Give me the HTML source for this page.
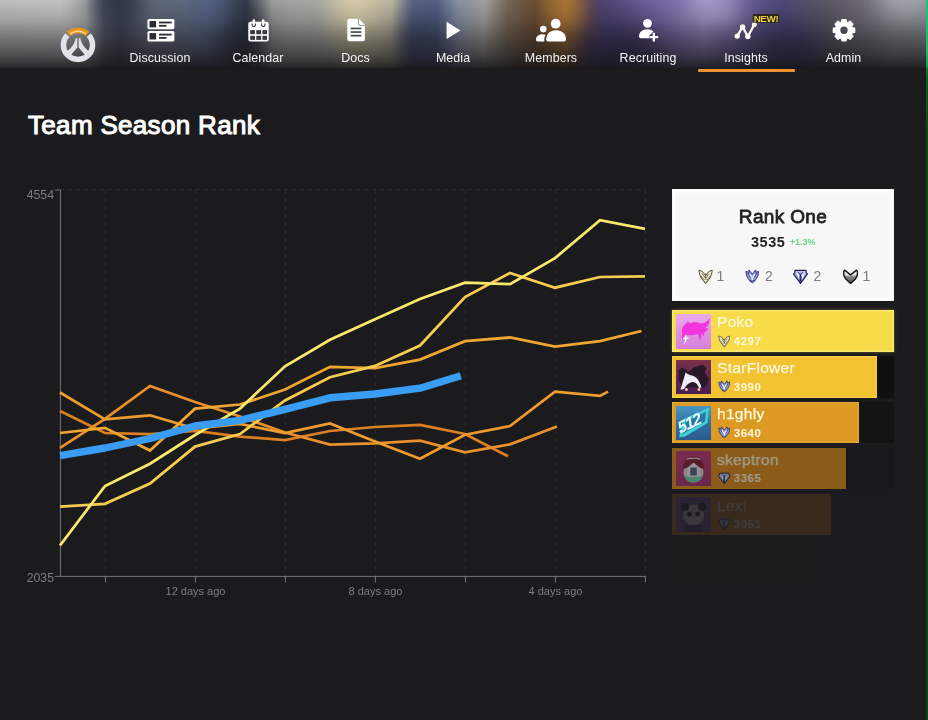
<!DOCTYPE html>
<html lang="en">
<head>
<meta charset="utf-8">
<title>Team Season Rank</title>
<style>
*{box-sizing:border-box;margin:0;padding:0}
html,body{width:928px;height:720px;overflow:hidden;background:#1b1b1d}
body{position:relative;font-family:"Liberation Sans",sans-serif;color:#fff}
.abs{position:absolute}
/* header */
#hdr{position:absolute;left:0;top:0;width:928px;height:70px;overflow:hidden;background:#6b6f73}
#hdr .base{position:absolute;left:0;top:0;width:928px;height:70px;background:linear-gradient(to right,#c2c6c5 0,#c6cac8 60px,#b0b4b4 86px,#5a6070 104px,#444a5a 120px,#666d7e 150px,#626b80 185px,#56627e 208px,#3e465a 232px,#353b4c 246px,#a2a6a4 272px,#aeb0a8 320px,#d2c8a6 352px,#c2bba4 392px,#5e6a8a 412px,#56628a 436px,#8c94aa 458px,#a8a6a4 484px,#7a6a58 508px,#6a4c34 535px,#9a6a30 565px,#54405a 590px,#4c4474 602px,#7464a2 650px,#9486c0 704px,#6c5e9a 742px,#504c7c 782px,#5c5868 824px,#6e6a76 858px,#8a8a94 896px,#909298 928px)}
#hdr .blobs{position:absolute;left:0;top:0;width:968px;height:120px;filter:blur(13px);opacity:.85}
#hdr .blobs i{position:absolute;display:block;border-radius:50%}
#hdr .shade{position:absolute;left:0;top:0;width:928px;height:70px;background:linear-gradient(to bottom,rgba(20,20,22,.03) 0,rgba(20,20,22,.2) 20px,rgba(20,20,22,.48) 40px,rgba(20,20,22,.67) 55px,rgba(20,20,22,.84) 65px,rgba(20,20,22,.9) 68px,#1b1b1d 68.800px)}
.nav{position:absolute;top:0;height:70px;width:98px;text-align:center}
.nav svg{position:absolute;left:0;top:0;overflow:visible}
.nav span{position:absolute;left:0;width:98px;top:50px;font-size:12.4px;line-height:16px;color:#f4f4f4;letter-spacing:.1px}
#uline{position:absolute;left:697.500px;top:69.400px;width:97px;height:2.600px;background:#f0922b;border-radius:1px}
#stripe{position:absolute;left:925.600px;top:0;width:2.400px;height:69px;background:linear-gradient(to bottom,#19c878 0,#1fb866 50px,#16a050 66px,#0f7a33 69px)}
#stripe2{position:absolute;left:926.300px;top:69px;width:1.700px;height:651px;background:linear-gradient(to bottom,#0f7030 0,#0c5a1e 14px,#0b4a18 60px,#0b4216 100%)}
h1{position:absolute;left:28px;top:108.500px;font-size:26px;line-height:32px;font-weight:normal;color:#fff;letter-spacing:.32px;white-space:nowrap;-webkit-text-stroke:1.05px #fff}
#chart{position:absolute;left:0;top:0}
#chart text{font-family:"Liberation Sans",sans-serif;fill:#7d7d7f}
/* right panel */
#card{position:absolute;left:672px;top:189px;width:222px;height:112px;background:#f7f7f7;border:1px solid transparent;box-shadow:inset 0 0 0 1px #fff,inset 0 0 5px 2px #fff}
#card .t{position:absolute;left:0;width:100%;top:15px;text-align:center;font-size:19px;line-height:24px;font-weight:normal;color:#222;letter-spacing:.35px;-webkit-text-stroke:.8px #222}
#card .s{position:absolute;left:78px;top:44px;font-size:14.500px;line-height:16px;font-weight:bold;color:#222;white-space:nowrap;letter-spacing:.5px}
#card .s b{font-size:9px;color:#6fcf85;font-weight:bold;margin-left:4.500px;position:relative;top:-2.500px;letter-spacing:0}
#card .n{position:absolute;top:78px;font-size:14px;line-height:16px;color:#7c7c7c}
.row{position:absolute;left:672px;height:41.600px}
.row .bar{position:absolute;left:0;top:0;height:41.600px}
.row .trk{position:absolute;left:0;top:0;width:222px;height:41.600px;background:#101011}
.row .av{position:absolute;left:4.200px;top:3.800px;width:34.600px;height:34.600px;overflow:hidden}
.row .nm{position:absolute;left:45px;top:3px;font-size:15.500px;line-height:18px;color:#fff8dc;white-space:nowrap;letter-spacing:.3px;-webkit-text-stroke:.25px #fff8dc}
.row .rk{position:absolute;left:61.700px;top:23.800px;font-size:11.500px;line-height:14px;font-weight:bold;color:#fff8dc;white-space:nowrap;letter-spacing:.55px}
.row svg.ri{position:absolute;left:46.400px;top:24.400px}
</style>
</head>
<body>
<div id="hdr">
  <div class="base"></div>
  <div class="blobs">
    <i style="left:92px;top:-22px;width:50px;height:44px;background:#2c3446"></i>
    <i style="left:190px;top:-6px;width:40px;height:36px;background:#5a6a90"></i>
    <i style="left:228px;top:10px;width:34px;height:50px;background:#262c3a"></i>
    <i style="left:335px;top:-5px;width:40px;height:34px;background:#e8dfbc"></i>
    <i style="left:400px;top:14px;width:40px;height:56px;background:#3a4462"></i>
    <i style="left:548px;top:-6px;width:36px;height:34px;background:#c88a3a"></i>
    <i style="left:590px;top:24px;width:70px;height:50px;background:#3a3060"></i>
    <i style="left:690px;top:-8px;width:50px;height:36px;background:#b8b0dc"></i>
    <i style="left:760px;top:24px;width:60px;height:50px;background:#3a3868"></i>
    <i style="left:880px;top:-14px;width:50px;height:34px;background:#b8b8c0"></i>
  </div>
  <div class="shade"></div>
</div>
<svg class="abs" style="left:58.100px;top:25.200px" width="40" height="40" viewBox="0 0 40 40">
  <defs><linearGradient id="owo" x1="0" y1="0" x2="0" y2="1"><stop offset="0" stop-color="#e08a14"/><stop offset=".5" stop-color="#f7a82a"/><stop offset="1" stop-color="#c9780f"/></linearGradient></defs>
  <g fill="none" stroke-width="5.600">
    <path d="M9.400 10.100A14.500 14.500 0 1 0 30.600 10.100" stroke="#e3e1ea"/>
    <path d="M10.600 8.900A14.500 14.500 0 0 1 29.400 8.900" stroke="#ec9519"/>
    <path d="M12.200 8.600A13.800 13.800 0 0 1 27.800 8.600" stroke="#ffe9bf" stroke-width="1.500" opacity=".85"/>
  </g>
  <g fill="#e3e1ea">
    <path d="M19.350 13.200V22.600L12.500 30.500L8.500 27Q17.200 19.500 17.600 13.200Z"/>
    <path d="M20.650 13.200V22.600L27.500 30.500L31.500 27Q22.800 19.500 22.400 13.200Z"/>
  </g>
</svg>
<div class="nav" style="left:111px">
  <svg width="98" height="50" viewBox="0 0 98 50">
    <g fill="#fff"><rect x="36.500" y="18.900" width="26.900" height="10.300" rx="1.600"/><rect x="36.500" y="31" width="26.900" height="10.500" rx="1.600"/></g>
    <g fill="#2b2d33"><rect x="38.500" y="21" width="6.600" height="6.400"/><rect x="38.500" y="33.100" width="6.600" height="6.400"/>
    <rect x="48" y="21.600" width="12.700" height="1.800"/><rect x="48" y="24.900" width="7.500" height="1.800"/>
    <rect x="48" y="33.700" width="12.700" height="1.800"/><rect x="48" y="37" width="7.500" height="1.800"/></g>
  </svg><span>Discussion</span></div>
<div class="nav" style="left:209px">
  <svg width="98" height="50" viewBox="0 0 98 50">
    <path d="M41.300 21.800h16.400a2 2 0 0 1 2 2v15.700a2 2 0 0 1 -2 2H41.300a2 2 0 0 1 -2 -2V23.800a2 2 0 0 1 2 -2z" fill="#fff"/>
    <g fill="#fff"><rect x="43.500" y="19.200" width="2.600" height="5" rx="1.300"/><rect x="52.900" y="19.200" width="2.600" height="5" rx="1.300"/></g>
    <g fill="none" stroke="#3a3b40" stroke-width="1.1"><path d="M43.100 23.600v1.200a1.700 1.700 0 0 0 3.400 0v-1.200M52.500 23.600v1.200a1.700 1.700 0 0 0 3.400 0v-1.200"/></g>
    <g fill="#3a3b40"><rect x="41.200" y="30.100" width="4.800" height="4.100"/><rect x="47.300" y="30.100" width="4.800" height="4.100"/><rect x="53.400" y="30.100" width="4.600" height="4.100"/>
    <rect x="41.200" y="35.800" width="4.800" height="4.100"/><rect x="47.300" y="35.800" width="4.800" height="4.100"/><rect x="53.400" y="35.800" width="4.600" height="4.100"/></g>
  </svg><span>Calendar</span></div>
<div class="nav" style="left:306.5px">
  <svg width="98" height="50" viewBox="0 0 98 50">
    <path d="M42.3 18.8h9.6l6 6v14.4a2 2 0 0 1 -2 2H42.3a2 2 0 0 1 -2 -2V20.8a2 2 0 0 1 2 -2z" fill="#fff"/>
    <path d="M51.4 18.8v5a1.6 1.6 0 0 0 1.6 1.6h4.9" fill="none" stroke="#8a8c92" stroke-width="1"/>
    <g fill="#4a4b50"><rect x="43.6" y="27.6" width="10.8" height="1.7"/><rect x="43.6" y="31.2" width="10.8" height="1.7"/><rect x="43.6" y="34.8" width="10.8" height="1.7"/></g>
  </svg><span>Docs</span></div>
<div class="nav" style="left:404px">
  <svg width="98" height="50" viewBox="0 0 98 50">
    <path d="M42.6 21.8V39L56.4 30.4Z" fill="#fff"/>
  </svg><span>Media</span></div>
<div class="nav" style="left:502px">
  <svg width="98" height="50" viewBox="0 0 98 50">
    <g fill="#fff">
    <circle cx="53.700" cy="23.700" r="4.900"/>
    <path d="M44.200 39.500C44.200 34 48 30.300 54.100 30.300C60.200 30.300 64 34 64 39.500Q64 41.500 62 41.500H46.200Q44.200 41.500 44.200 39.500Z"/>
    <circle cx="41.300" cy="29.100" r="3.300"/>
    <path d="M34 39.800C34 36.400 36.600 34.200 40.200 34.200C41.500 34.200 42.700 34.500 43.600 35.100C42.400 36.800 42.200 38.800 42.300 41.500H35.600Q34 41.500 34 39.800Z"/>
    </g>
  </svg><span>Members</span></div>
<div class="nav" style="left:599px">
  <svg width="98" height="50" viewBox="0 0 98 50">
    <g fill="#fff">
    <circle cx="48.500" cy="23.300" r="4.400"/>
    <path d="M40 36.600C40 32.200 43.400 29.200 48.400 29.200C51 29.200 53 30 54.400 31.400L50 36V38.300H41.600Q40 38.300 40 36.600Z"/>
    <path d="M53.650 32.800h2.300v3.250h3.250v2.300h-3.250v3.250h-2.300v-3.250h-3.250v-2.300h3.250z"/>
    </g>
  </svg><span>Recruiting</span></div>
<div class="nav" style="left:697px">
  <svg width="98" height="50" viewBox="0 0 98 50">
    <path d="M40.200 36.100L45.600 26.900L50.800 36.500L57.300 24.600" fill="none" stroke="#fffaf0" stroke-width="2.300" stroke-linejoin="round" stroke-linecap="round"/>
    <g fill="#fffaf0"><circle cx="40.200" cy="36.100" r="2.700"/><circle cx="45.600" cy="26.900" r="2.700"/><circle cx="50.800" cy="36.500" r="2.700"/><circle cx="57.300" cy="24.400" r="2.500"/></g>
    <rect x="55.800" y="14" width="26.400" height="8.800" rx="1" fill="#2a2410" opacity=".9"/>
    <text x="69" y="22" font-family="Liberation Sans,sans-serif" font-size="9.800" font-weight="bold" fill="#ecd23e" text-anchor="middle" letter-spacing="-.35">NEW!</text>
  </svg><span>Insights</span></div>
<div class="nav" style="left:794.500px">
  <svg width="98" height="50" viewBox="0 0 98 50">
    <g transform="translate(49 30.250)" fill="#fff">
      <path id="gt" d="M-2.700-10.600Q-2.700-11.300-2-11.300h4Q2.700-11.300 2.700-10.600l.6 3.200h-6.600z"/>
      <use href="#gt" transform="rotate(45)"/><use href="#gt" transform="rotate(90)"/><use href="#gt" transform="rotate(135)"/>
      <use href="#gt" transform="rotate(180)"/><use href="#gt" transform="rotate(225)"/><use href="#gt" transform="rotate(270)"/><use href="#gt" transform="rotate(315)"/>
      <path fill-rule="evenodd" d="M0-9.100a9.100 9.100 0 1 0 0 18.200a9.100 9.100 0 1 0 0-18.200zM0-3.700a3.700 3.700 0 1 1 0 7.400a3.700 3.700 0 1 1 0-7.400z"/>
    </g>
  </svg><span>Admin</span></div>

<div id="uline"></div>
<div id="stripe"></div><div id="stripe2"></div>
<h1>Team Season Rank</h1>
<svg id="chart" width="928" height="720" viewBox="0 0 928 720">
<g stroke="#2a2a2d" stroke-width="1" stroke-dasharray="4 4" fill="none">
<path d="M105.5 190V576"/>
<path d="M195.5 190V576"/>
<path d="M285.5 190V576"/>
<path d="M375.5 190V576"/>
<path d="M465.5 190V576"/>
<path d="M555.5 190V576"/>
<path d="M645.5 190V576"/>
<path d="M60 189.5H645"/>
</g>
<g stroke="#767678" stroke-width="1" fill="none">
<path d="M55 190H60.4V576.4"/>
<path d="M54.5 576.4H645.5"/>
<path d="M105.4 576V582.5"/>
<path d="M195.4 576V582.5"/>
<path d="M285.4 576V582.5"/>
<path d="M375.4 576V582.5"/>
<path d="M465.4 576V582.5"/>
<path d="M555.4 576V582.5"/>
<path d="M645.4 576V582.5"/>
</g>
<text x="54" y="199" font-size="12.300" text-anchor="end">4554</text>
<text x="54" y="581.5" font-size="12.300" text-anchor="end">2035</text>
<text x="195.5" y="594.5" font-size="11" text-anchor="middle">12 days ago</text>
<text x="375.5" y="594.5" font-size="11" text-anchor="middle">8 days ago</text>
<text x="555.5" y="594.5" font-size="11" text-anchor="middle">4 days ago</text>
<g fill="none" stroke-linejoin="miter" stroke-linecap="butt">
<polyline points="60,411.0 105,433.0 150,434.2 195,431.0 240,436.6 285,440.2 330,431.0 375,427.0 420,424.8 465,434.0 508.0,456.2" stroke="#dc7e22" stroke-width="2.75"/>
<polyline points="60,447.9 105,418.8 150,386.0 195,402.0 240,416.5 285,432.5 330,444.5 375,443.3 420,440.7 465,452.4 510,444.4 557.0,426.5" stroke="#e98f2c" stroke-width="2.75"/>
<polyline points="60,392.5 105,419.4 150,415.3 195,428.5 240,424.0 285,433.0 330,423.4 375,441.5 420,458.8 465,434.7 510,426.0 555,391.6 600,395.9 608.0,391.6" stroke="#ee9c30" stroke-width="2.75"/>
<polyline points="60,433.0 105,427.8 150,450.5 195,408.7 240,404.5 285,389.6 330,366.8 375,368.2 420,359.6 465,341.2 510,337.5 555,346.5 600,341.1 641.5,331.0" stroke="#efa632" stroke-width="2.75"/>
<polyline points="60,506.7 105,503.8 150,483.5 195,446.6 240,434.0 285,400.5 330,377.2 375,365.9 420,345.5 465,297.0 510,273.0 555,287.7 600,277.0 645,276.3" stroke="#f7cc50" stroke-width="2.75"/>
<polyline points="60,545.5 105,486.0 150,463.7 195,435.0 240,408.6 285,366.3 330,339.7 375,319.3 420,298.9 465,282.6 510,284.2 555,258.1 600,220.2 645,228.9" stroke="#fbe96e" stroke-width="2.75"/>
<polyline points="60,455.6 105,448.0 150,438.5 195,426.0 240,420.3 285,409.3 330,397.8 375,394.0 420,388.2 460.8,375.7" stroke="#3a9df5" stroke-width="7.400" stroke-linejoin="round"/>
</g></svg>
<svg width="0" height="0" style="position:absolute">
  <defs>
    <linearGradient id="gpl" x1="0" y1="0" x2="0" y2="1"><stop offset="0" stop-color="#f4f4f4"/><stop offset=".36" stop-color="#e6e6e6"/><stop offset=".48" stop-color="#8a8a8a"/><stop offset="1" stop-color="#4a4a4a"/></linearGradient>
    <linearGradient id="gdi" x1="0" y1="0" x2="0" y2="1"><stop offset="0" stop-color="#c4caf0"/><stop offset="1" stop-color="#6670b8"/></linearGradient>
    <symbol id="rk-gm" viewBox="0 0 16 16">
      <path d="M1 1.300L4.600 2.600L8 7L11.400 2.600L15 1.300L14.200 6L12.500 9.600L8 15.400L3.500 9.600L1.800 6Z" fill="#f1ecd2" stroke="#514c32" stroke-width="1" stroke-linejoin="round"/>
      <path d="M8 4.400V10M4.600 4.800L8 10L11.400 4.800M3.200 7.400L6.400 11.400M12.800 7.400L9.600 11.400" fill="none" stroke="#5d583a" stroke-width=".85"/>
      <path d="M8 10.300L9.700 12.200L8 14.200L6.300 12.200Z" fill="#fffdf2" stroke="#514c32" stroke-width=".6"/>
    </symbol>
    <symbol id="rk-ma" viewBox="0 0 16 16">
      <path d="M1 2.600L4.300 3.700L4.300 1L8 5.600L11.700 1L11.700 3.700L15 2.600L14.300 7L12.600 10.500L10.600 13.100L8 15.300L5.400 13.100L3.400 10.500L1.700 7Z" fill="#8c9cdc" stroke="#283266" stroke-width="1" stroke-linejoin="round"/>
      <path d="M2.800 4.400L6.200 9.400M13.200 4.400L9.800 9.400M5 13H11" fill="none" stroke="#283266" stroke-width=".9"/>
      <path d="M5.200 5.600L8 10L10.800 5.600M8 10V12.400" fill="none" stroke="#f2f4ff" stroke-width="1.400"/>
    </symbol>
    <symbol id="rk-di" viewBox="0 0 16 16">
      <path d="M2.200 1.500H13.800L14.400 4.400L15.500 5.200L8 15.400L.5 5.200L1.600 4.400Z" fill="url(#gdi)" stroke="#1c1e46" stroke-width="1.200" stroke-linejoin="round"/>
      <path d="M3.300 3.600L7 6.400L6.200 11.400ZM12.700 3.600L9 6.400L9.800 11.400Z" fill="#f4f5ff"/>
      <path d="M8 5.200V13.400" fill="none" stroke="#2a2e66" stroke-width="1.700"/>
      <path d="M5.600 3.400L8 6L10.400 3.400" fill="none" stroke="#2a2e66" stroke-width=".9"/>
    </symbol>
    <symbol id="rk-pl" viewBox="0 0 16 16">
      <path d="M1.700 1.200L8 6.200L14.300 1.200L15.300 3.200L15 7L13 10.600L8 15.300L3 10.600L1 7L.7 3.200Z" fill="url(#gpl)" stroke="#141414" stroke-width="1.500" stroke-linejoin="round"/>
    </symbol>
  </defs>
</svg>
<div id="card">
  <div class="t">Rank One</div>
  <div class="s">3535<b>+1.3%</b></div>
  <svg class="abs" style="left:24.800px;top:78.800px" width="15.200" height="15.200"><use href="#rk-gm"/></svg><div class="n" style="left:43.500px">1</div>
  <svg class="abs" style="left:71.600px;top:79.300px" width="14.600" height="14.600"><use href="#rk-ma"/></svg><div class="n" style="left:92px">2</div>
  <svg class="abs" style="left:120.100px;top:79.100px" width="15" height="15"><use href="#rk-di"/></svg><div class="n" style="left:140.500px">2</div>
  <svg class="abs" style="left:169.900px;top:78.900px" width="15.200" height="15.200"><use href="#rk-pl"/></svg><div class="n" style="left:189.500px">1</div>
</div>

<div class="row" style="top:310.300px;width:222px">
  <div class="bar" style="width:222px;height:42.200px;background:#f5dc48;box-shadow:inset 0 0 0 1.500px #fbe96c,0 0 3px rgba(251,233,108,.35)"></div>
  <div class="av" style="background:linear-gradient(180deg,#eaa9ea,#d57fdb)">
    <svg width="35" height="35" viewBox="0 0 35 35"><path d="M6 20C5 15 7.500 10.500 11.500 8.500L10.800 7L14 9.300C18 7.500 22 8 25 9.500C28 9.500 31 8 33.500 4.300C34 9 32 12.500 28.500 14.500C30 14.800 31.500 14.200 32.600 13.400C31.500 16.500 29.500 18.200 27.500 18.800C28 20 27.800 21.500 27 22.600C26.600 21 25.800 20 25 19.500C25.500 22 25 25 24 27C23.500 24 22.800 21.500 21.500 20C18 21.500 13 21.500 10 20.500C8 21.500 7 23.500 6.500 26C5.500 24 5.500 22 6 20Z" fill="#f135dc"/>
    <path d="M9.800 20.500L10.800 23.500L13.500 24L10.800 25L8.500 30.500L8.800 25L6.500 24.500L8.800 23.600Z" fill="#fff"/></svg>
  </div>
  <div class="nm">Poko</div>
  <svg class="ri" width="12.500" height="12.500"><use href="#rk-gm"/></svg><div class="rk">4297</div>
</div>

<div class="row" style="top:356.100px;width:222px">
  <div class="trk"></div>
  <div class="bar" style="width:204.500px;background:#f3c231;box-shadow:inset 0 0 0 1.200px #f7cd4c"></div>
  <div class="av" style="background:linear-gradient(180deg,#7a3048,#5a2458 70%,#4a1e50)">
    <svg width="35" height="35" viewBox="0 0 35 35"><path d="M2.500 10L6.500 7.500L12.500 11.500L19 7L26.500 4.500L30.500 8L28.500 12.500L33 18.500L31 25L27.500 28L5.500 27L2.500 19Z" fill="#2a1828"/>
    <path d="M9.800 12.300C11 14 13 15 16 15.500C20 16.500 23.500 20 25.500 27.500L23 28C22 24.500 20 22.500 17.500 22C14 22 10.500 24.500 8 29L4.500 29.800C6 24.500 7.500 19.500 9.800 12.300Z" fill="#f0eef8"/>
    <circle cx="10.400" cy="29.400" r="1.500" fill="#f5b8a0"/><circle cx="22.900" cy="29.400" r="1.500" fill="#f5b8a0"/></svg>
  </div>
  <div class="nm">StarFlower</div>
  <svg class="ri" width="12.500" height="12.500"><use href="#rk-ma"/></svg><div class="rk">3990</div>
</div>

<div class="row" style="top:401.900px;width:222px">
  <div class="trk" style="background:#131314"></div>
  <div class="bar" style="width:186.500px;background:#dc9a22;box-shadow:inset 0 0 0 1.200px #e4a838"></div>
  <div class="av" style="background:linear-gradient(180deg,#4a97c4,#2f6aa0 60%,#2a5a90)">
    <svg width="35" height="35" viewBox="0 0 35 35"><path d="M3 31.500L7 13.500L33 1.500L31.500 17L9 30.500Z" fill="#3fd0d6"/><path d="M6.500 28L10 15.200L30 5.800L29 15.600Z" fill="#2a78a6"/>
    <text x="6.500" y="26.500" font-family="Liberation Sans,sans-serif" font-size="16.500" font-weight="bold" font-style="italic" fill="#e4fbff" transform="rotate(-25 6.500 26.500) skewX(-6)" letter-spacing="-1.100">512</text></svg>
  </div>
  <div class="nm">h1ghly</div>
  <svg class="ri" width="12.500" height="12.500"><use href="#rk-ma"/></svg><div class="rk">3640</div>
</div>

<div class="row" style="top:447.700px;width:222px">
  <div class="trk" style="background:#18181a"></div>
  <div style="opacity:.58"><div class="bar" style="width:173.500px;background:#e08c1c"></div>
  <div class="av" style="background:linear-gradient(180deg,#c03a78,#a83470)">
    <svg width="35" height="35" viewBox="0 0 35 35"><circle cx="17.500" cy="21.500" r="10" fill="#ddd6dc"/>
    <path d="M7.800 24C10 30 13 31.500 17.500 31.500C22 31.500 25 30 27.200 24C22 27 13 27 7.800 24Z" fill="#6fd6a2"/>
    <path d="M9.500 10C11 6.500 14 5 17.500 5.500C21 5 24 6.500 25.500 10C27.500 12 28.500 15 27.500 18L23.500 16.500L17.500 11.500L11.500 16.500L7.500 18C6.500 15 7.500 12 9.500 10Z" fill="#8a1f3a"/>
    <path d="M11 8.500C13 7 15.500 6.800 17.500 7.500C19.500 6.800 22 7 24 8.500" fill="none" stroke="#f0e8ee" stroke-width="1.300"/>
    <path d="M11.500 17L17.500 12L23.500 17V25.500H11.500Z" fill="#f2eef2"/>
    <rect x="14.200" y="16.500" width="6.600" height="8" fill="#4f6a86"/></svg>
  </div>
  <div class="nm">skeptron</div>
  <svg class="ri" width="12.500" height="12.500"><use href="#rk-di"/></svg><div class="rk">3365</div></div>
</div>

<div class="row" style="top:493.500px;width:222px">
  <div style="opacity:.15"><div class="bar" style="width:158.500px;background:#e0861c"></div>
  <div class="av" style="background:#8a50b8">
    <svg width="35" height="35" viewBox="0 0 35 35"><circle cx="17.500" cy="18" r="10.500" fill="#e8dcf4"/><circle cx="9" cy="10" r="4" fill="#2a1a3a"/><circle cx="26" cy="10" r="4" fill="#2a1a3a"/><circle cx="13.500" cy="17" r="2.500" fill="#2a1a3a"/><circle cx="21.500" cy="17" r="2.500" fill="#2a1a3a"/><path d="M8 28H27V35H8Z" fill="#5a2a90"/></svg>
  </div>
  <div class="nm">Lexi</div>
  <svg class="ri" width="12.500" height="12.500"><use href="#rk-di"/></svg><div class="rk">3051</div></div>
</div>

<div class="row" style="top:539.300px;width:222px">
  <div style="opacity:.012"><div class="bar" style="width:140px;background:#e0801c"></div></div>
</div>

</body>
</html>
